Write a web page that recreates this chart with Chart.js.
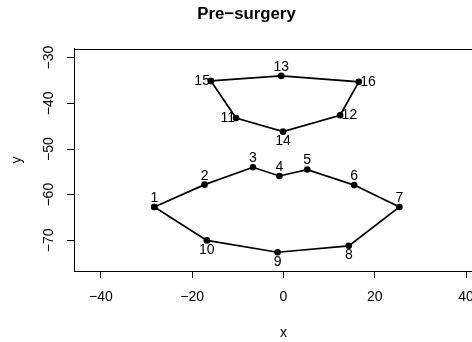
<!DOCTYPE html>
<html>
<head>
<meta charset="utf-8">
<script src="https://cdn.jsdelivr.net/npm/chart.js@4/dist/chart.umd.min.js"></script>
<style>
  html, body { margin: 0; padding: 0; background: #fff; overflow: hidden; }
  #wrap { width: 520px; height: 342px; }
</style>
</head>
<body>
<div id="wrap"><canvas id="myChart" width="520" height="342"></canvas></div>
<script>
// landmark numbers and their coordinates
const ids = [1, 2, 3, 4, 5, 6, 7, 8, 9, 10, 11, 12, 13, 14, 15, 16];
const xs = [-28.3, -17.3, -6.7, -0.9, 5.2, 15.5, 25.4, 14.3, -1.3, -16.8, -10.4, 12.4, -0.5, -0.1, -15.9, 16.5];
const ys = [-62.7, -57.8, -54.0, -55.9, -54.5, -57.9, -62.7, -71.2, -72.6, -70.0, -43.2, -42.6, -34.0, -46.2, -35.1, -35.3];

// order in which the landmarks are joined
const outerPath = [1, 2, 3, 4, 5, 6, 7, 8, 9, 10, 1];
const innerPath = [15, 13, 16, 12, 14, 11, 15];

const xTicks = [-40, -20, 0, 20, 40];
const yTicks = [-30, -40, -50, -60, -70];

// where each number sits next to its point
const labelSide = ['up', 'up', 'up', 'up', 'up', 'up', 'up', 'down', 'down', 'down', 'left', 'right', 'up', 'down', 'left', 'right'];

const FONT = '"Liberation Sans", Arial, Helvetica, sans-serif';
Chart.defaults.color = '#000';
Chart.defaults.font.family = FONT;
Chart.defaults.font.size = 14;

const toPoints = (path) => path.map((id) => ({ x: xs[ids.indexOf(id)], y: ys[ids.indexOf(id)] }));
const minus = (v) => String(v).replace('-', '\u2212');

const boxPlugin = {
  id: 'box',
  afterDraw(chart) {
    const a = chart.chartArea;
    const c = chart.ctx;
    c.save();
    c.strokeStyle = '#000';
    c.lineWidth = 1;
    c.strokeRect(Math.round(a.left) + 0.5, Math.round(a.top) + 0.5, Math.round(a.right - a.left), Math.round(a.bottom - a.top));
    c.restore();
  }
};

const labelPlugin = {
  id: 'pointLabels',
  afterDatasetsDraw(chart) {
    const c = chart.ctx;
    const sx = chart.scales.x, sy = chart.scales.y;
    c.save();
    c.fillStyle = '#000';
    c.font = '14px ' + FONT;
    ids.forEach((id, i) => {
      const px = sx.getPixelForValue(xs[i]);
      const py = sy.getPixelForValue(ys[i]);
      const side = labelSide[i];
      c.textBaseline = 'middle';
      if (side === 'up') { c.textAlign = 'center'; c.fillText(id, px, py - 9); }
      else if (side === 'down') { c.textAlign = 'center'; c.fillText(id, px, py + 9.5); }
      else if (side === 'left') { c.textAlign = 'right'; c.fillText(id, px - 1, py); }
      else { c.textAlign = 'left'; c.fillText(id, px + 1.5, py); }
    });
    c.restore();
  }
};

const lineStyle = {
  showLine: true,
  borderColor: '#000',
  borderWidth: 1.7,
  backgroundColor: '#000',
  pointBackgroundColor: '#000',
  pointBorderColor: '#000',
  pointRadius: 3.3,
  pointBorderWidth: 0,
  tension: 0
};

const ctx = document.getElementById('myChart');

new Chart(ctx, {
  type: 'scatter',
  data: {
    datasets: [
      Object.assign({ label: 'outer', data: toPoints(outerPath) }, lineStyle),
      Object.assign({ label: 'inner', data: toPoints(innerPath) }, lineStyle)
    ]
  },
  options: {
    responsive: false,
    animation: false,
    devicePixelRatio: 1,
    layout: { padding: { left: 0, right: 27, top: 0, bottom: 0 } },
    plugins: {
      legend: { display: false },
      tooltip: { enabled: false },
      title: {
        display: true,
        text: 'Pre\u2212surgery',
        color: '#000',
        font: { size: 16.8, weight: 'bold', family: FONT, lineHeight: 1.2 },
        padding: { top: 4, bottom: 24.8 }
      }
    },
    scales: {
      x: {
        type: 'linear',
        min: -45.9,
        max: 45.9,
        afterBuildTicks: (s) => { s.ticks = xTicks.map((v) => ({ value: v })); },
        afterFit: (s) => { s.height = 71; },
        border: { display: true, color: '#000', width: 1 },
        grid: { display: true, drawOnChartArea: false, drawTicks: true, tickLength: 7, color: '#000', lineWidth: 1 },
        ticks: { color: '#000', padding: 11, maxRotation: 0, autoSkip: false, callback: (v) => minus(v) },
        title: { display: true, text: 'x', color: '#000', font: { size: 14 }, padding: { top: 0, bottom: 0.5 } }
      },
      y: {
        type: 'linear',
        min: -76.7,
        max: -28.1,
        afterBuildTicks: (s) => { s.ticks = yTicks.slice().reverse().map((v) => ({ value: v })); },
        afterFit: (s) => { s.width = 74; },
        border: { display: true, color: '#000', width: 1 },
        grid: { display: true, drawOnChartArea: false, drawTicks: true, tickLength: 7, color: '#000', lineWidth: 1 },
        ticks: { color: '#000', padding: 5.5, minRotation: 90, maxRotation: 90, crossAlign: 'center', autoSkip: false, callback: (v) => minus(v) },
        title: { display: true, text: 'y', color: '#000', font: { size: 14 }, padding: { top: 9, bottom: 0 } }
      }
    }
  },
  plugins: [boxPlugin, labelPlugin]
});
</script>
</body>
</html>
